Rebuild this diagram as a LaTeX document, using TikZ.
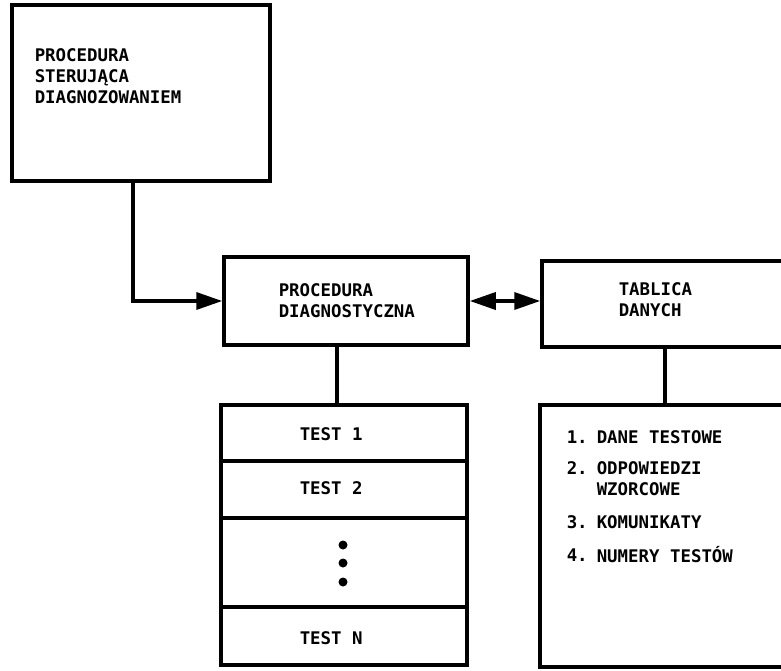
\documentclass[tikz,border=0pt]{standalone}
\usepackage{fontspec}
\setmainfont{DejaVu Sans Mono}
\usetikzlibrary{arrows.meta}

\tikzset{
	blok/.style={rectangle,draw,line width=3.5pt,inner sep=0pt},
	napis/.style={font=\bfseries\fontsize{17.4}{21}\selectfont,align=left,inner sep=0pt,anchor=west},
}

\begin{document}
\begin{tikzpicture}[x=1pt,y=-1pt,line width=3.5pt,>={Triangle[length=26pt,width=17pt]}]
			\useasboundingbox (0,0) rectangle (781,671);

			\node[blok,minimum width=258pt,minimum height=176pt] (ster) at (141,93) {};
			\node[blok,minimum width=244pt,minimum height=88pt] (diag) at (346,301) {};
			\node[blok,minimum width=262pt,minimum height=86pt] (tabl) at (673,304) {};

			\node[blok,minimum width=246pt,minimum height=56pt] (test1) at (344,433) {};
			\node[blok,minimum width=246pt,minimum height=57pt] (test2) at (344,489.5) {};
			\node[blok,minimum width=246pt,minimum height=89pt] (kropki) at (344,562.5) {};
			\node[blok,minimum width=246pt,minimum height=58pt] (testN) at (344,636) {};
			\node[blok,minimum width=262pt,minimum height=262pt] (dane) at (671,536) {};

			\node[napis] (sterTxt) at (33,76) {PROCEDURA\\STERUJĄCA\\DIAGNOZOWANIEM};
			\node[napis] (diagTxt) at (277,301) {PROCEDURA\\DIAGNOSTYCZNA};
			\node[napis] (tablTxt) at (617,300) {TABLICA\\DANYCH};

			\node[napis] (t1) at (298,434) {TEST 1};
			\node[napis] (t2) at (298,488) {TEST 2};
			\node[napis] (tN) at (298,638) {TEST N};
			\fill (343,545) circle (4.5);
			\fill (343,563) circle (4.5);
			\fill (343,582) circle (4.5);

			\node[napis] (nr1) at (565,437) {1.};
			\node[napis] (d1) at (595,437) {DANE TESTOWE};
			\node[napis] (nr2) at (565,468) {2.};
			\node[napis] (d2) at (595,478.5) {ODPOWIEDZI\\WZORCOWE};
			\node[napis] (nr3) at (565,522) {3.};
			\node[napis] (d3) at (595,522) {KOMUNIKATY};
			\node[napis] (nr4) at (565,555) {4.};
			\node[napis] (d4) at (595,555) {NUMERY TESTÓW};

			\draw[->] ([xshift=-8pt]ster.south) |- (diag.west);
			\draw[<->] (diag.east) -- (diag.east -| tabl.west);
			\draw ([xshift=-9pt]diag.south) -- ([xshift=-9pt]diag.south |- test1.north);
			\draw ([xshift=-8pt]tabl.south) -- ([xshift=-8pt]tabl.south |- dane.north);
		\end{tikzpicture}
\end{document}
